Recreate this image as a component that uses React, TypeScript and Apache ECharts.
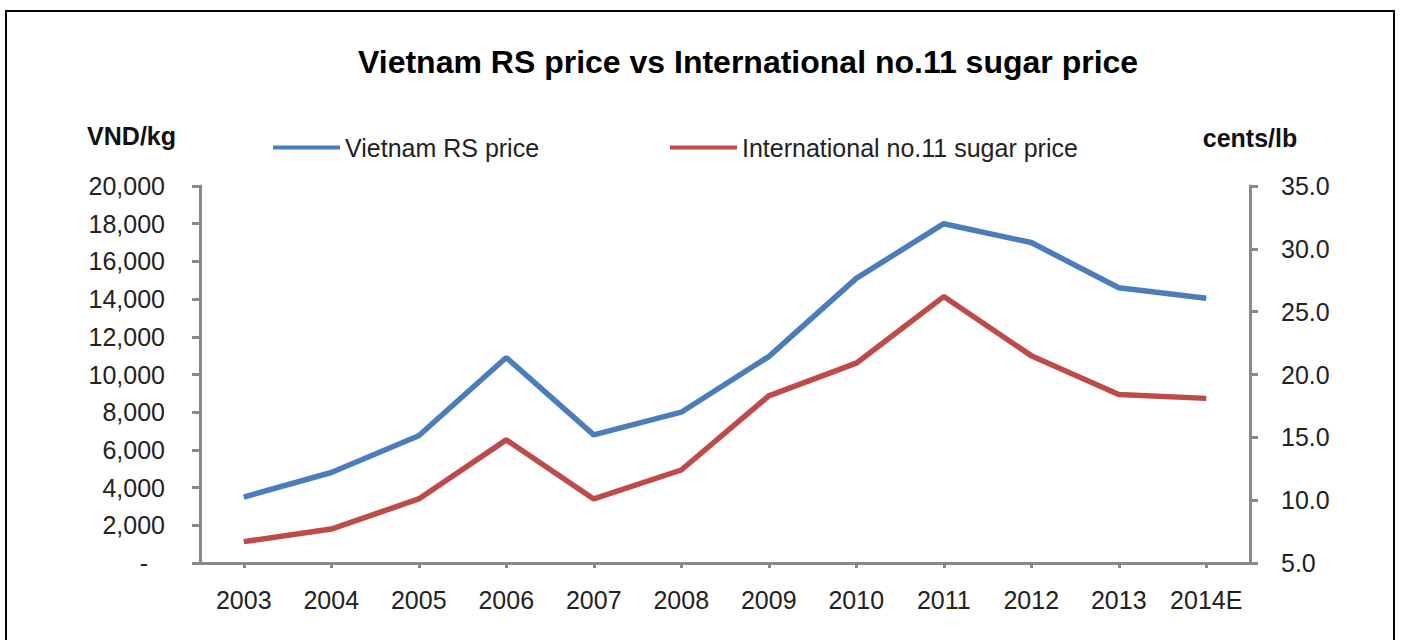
import React, { useEffect, useRef } from "react";
import * as echarts from "echarts";

const categories = ["2003", "2004", "2005", "2006", "2007", "2008", "2009", "2010", "2011", "2012", "2013", "2014E"];
const vietnamRS = [3500, 4800, 6750, 10900, 6800, 8000, 10950, 15100, 18000, 17000, 14600, 14050];
const intlNo11 = [6.7, 7.7, 10.1, 14.8, 10.1, 12.4, 18.3, 20.9, 26.2, 21.5, 18.4, 18.1];
const seriesNames = ["Vietnam RS price", "International no.11 sugar price"];
const titleText = "Vietnam RS price vs International no.11 sugar price";
const leftUnit = "VND/kg";
const rightUnit = "cents/lb";

const FONT = "'Liberation Sans', Arial, sans-serif";
const AXIS_COLOR = "#898989";
const BLUE = "#4A7EBB";
const RED = "#BE4B48";

export default function App() {
  const ref = useRef<HTMLDivElement>(null);
  useEffect(() => {
    if (!ref.current) return;
    const chart = echarts.init(ref.current, undefined, { renderer: "svg" });
    const axisLine = { show: true, lineStyle: { color: AXIS_COLOR, width: 3 } };
    const axisTick = (len: number) => ({ show: true, length: len, lineStyle: { color: AXIS_COLOR, width: 3 } });
    chart.setOption({
      animation: false,
      backgroundColor: "transparent",
      title: {
        text: titleText,
        left: 353,
        top: 41,
        textStyle: { fontFamily: FONT, fontSize: 32, fontWeight: "bold", color: "#000" },
      },
      legend: [
        {
          data: [seriesNames[0]],
          left: 268,
          top: 130,
          icon: "rect",
          itemWidth: 67,
          itemHeight: 4,
          textStyle: { fontFamily: FONT, fontSize: 25, color: "#222" },
        },
        {
          data: [seriesNames[1]],
          left: 665,
          top: 130,
          icon: "rect",
          itemWidth: 67,
          itemHeight: 4,
          textStyle: { fontFamily: FONT, fontSize: 25, color: "#222" },
        },
      ],
      grid: { left: 200, right: 153, top: 186, bottom: 77, containLabel: false },
      xAxis: {
        type: "category",
        data: categories,
        boundaryGap: true,
        axisLine,
        axisTick: { ...axisTick(5), alignWithLabel: true, interval: 0 },
        axisLabel: { fontFamily: FONT, fontSize: 25, color: "#222", margin: 24, interval: 0 },
        splitLine: { show: false },
      },
      yAxis: [
        {
          type: "value",
          min: 0,
          max: 20000,
          interval: 2000,
          position: "left",
          name: leftUnit,
          nameLocation: "end",
          nameGap: 38,
          nameTextStyle: { fontFamily: FONT, fontSize: 25, fontWeight: "bold", color: "#111", align: "right", padding: [0, 24, 0, 0] },
          axisLine,
          axisTick: axisTick(8),
          splitLine: { show: false },
          axisLabel: {
            fontFamily: FONT,
            fontSize: 25,
            color: "#222",
            margin: 35,
            formatter: (v: number) => (v === 0 ? "{d|-}" : v.toLocaleString("en-US")),
            rich: { d: { fontFamily: FONT, fontSize: 25, color: "#222", padding: [0, 17, 0, 0] } },
          },
        },
        {
          type: "value",
          min: 5,
          max: 35,
          interval: 5,
          position: "right",
          name: rightUnit,
          nameLocation: "end",
          nameGap: 36,
          nameTextStyle: { fontFamily: FONT, fontSize: 25, fontWeight: "bold", color: "#111" },
          axisLine,
          axisTick: axisTick(8),
          splitLine: { show: false },
          axisLabel: {
            fontFamily: FONT,
            fontSize: 25,
            color: "#222",
            margin: 31,
            formatter: (v: number) => v.toFixed(1),
          },
        },
      ],
      series: [
        {
          name: seriesNames[0],
          type: "line",
          yAxisIndex: 0,
          data: vietnamRS,
          showSymbol: false,
          symbol: "none",
          lineStyle: { color: BLUE, width: 5.5 },
          itemStyle: { color: BLUE },
        },
        {
          name: seriesNames[1],
          type: "line",
          yAxisIndex: 1,
          data: intlNo11,
          showSymbol: false,
          symbol: "none",
          lineStyle: { color: RED, width: 5.5 },
          itemStyle: { color: RED },
        },
      ],
    });
    return () => chart.dispose();
  }, []);

  return (
    <div style={{ position: "fixed", left: 0, top: 0, width: 1403, height: 640, background: "#fff", overflow: "hidden" }}>
      <div
        style={{
          position: "absolute",
          left: 5,
          top: 10,
          width: 1390,
          height: 700,
          borderTop: "2px solid #000",
          borderLeft: "2px solid #000",
          borderRight: "2px solid #000",
          boxSizing: "border-box",
        }}
      />
      <div ref={ref} style={{ position: "absolute", left: 0, top: 0, width: 1403, height: 640 }} />
    </div>
  );
}
